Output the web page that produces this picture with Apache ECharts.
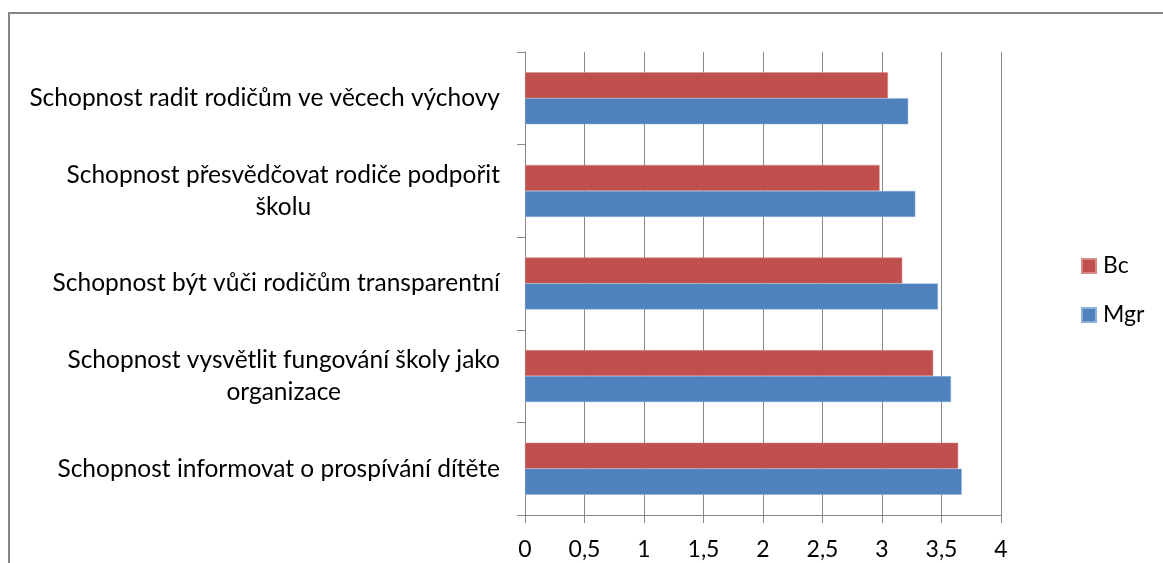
<!DOCTYPE html>
<html>
<head>
<meta charset="utf-8">
<script src="https://cdn.jsdelivr.net/npm/echarts@6/dist/echarts.min.js"></script>
<style>
  html, body { margin: 0; padding: 0; background: #fff; }
  #frame {
    position: absolute; left: 8px; top: 12px; right: -4px; bottom: -4px;
    border-left: 2px solid #868686; border-top: 2px solid #868686;
  }
  #chart { position: absolute; left: 0; top: 0; width: 1163px; height: 563px; }
</style>
</head>
<body>
<div id="frame"></div>
<div id="chart"></div>
<script>
// bottom to top, as the category axis counts from the origin
const categories = [
  'Schopnost informovat o prospívání dítěte',
  'Schopnost vysvětlit fungování školy jako\norganizace',
  'Schopnost být vůči rodičům transparentní',
  'Schopnost přesvědčovat rodiče podpořit\nškolu',
  'Schopnost radit rodičům ve věcech výchovy'
]
const bcValues = [3.64, 3.43, 3.17, 2.98, 3.05]
const mgrValues = [3.67, 3.58, 3.47, 3.28, 3.22]
const xTicks = { min: 0, max: 4, interval: 0.5 }

const FONT = 'Lato, "Open Sans", sans-serif'
const FS = 24.5
const chart = echarts.init(document.getElementById('chart'), null, { renderer: 'canvas' })

chart.setOption({
  animation: false,
  textStyle: { fontFamily: FONT },
  legend: {
    orient: 'vertical',
    left: 1081,
    top: 254,
    padding: 0,
    itemWidth: 14,
    itemHeight: 14,
    itemGap: 25,
    icon: 'rect',
    data: ['Bc', 'Mgr'],
    textStyle: { fontFamily: FONT, fontSize: 23, lineHeight: 24, color: '#000', padding: [0, 0, 0, 2] },
  },
  grid: {
    left: 525,
    right: 162,
    top: 52,
    bottom: 48,
    containLabel: false,
  },
  xAxis: {
    type: 'value',
    min: xTicks.min,
    max: xTicks.max,
    interval: xTicks.interval,
    axisLine: { show: true, lineStyle: { color: '#888', width: 1 } },
    axisTick: { show: true, length: 8, lineStyle: { color: '#888' } },
    splitLine: { show: true, lineStyle: { color: '#888', width: 1 } },
    axisLabel: {
      color: '#000',
      fontSize: 23,
      fontFamily: FONT,
      margin: 23,
      formatter: v => String(v).replace('.', ','),
    },
  },
  yAxis: {
    type: 'category',
    data: categories,
    axisLine: { show: true, lineStyle: { color: '#888', width: 1 } },
    axisTick: { show: true, length: 8, lineStyle: { color: '#888' } },
    axisLabel: {
      margin: 25,
      align: 'right',
      formatter: v => v.split('\n').map(l => '{c|' + l + '}').join('\n'),
      rich: {
        c: { align: 'center', fontSize: FS, lineHeight: 32, fontFamily: FONT, color: '#000' },
      },
    },
  },
  series: [
    {
      name: 'Bc',
      type: 'bar',
      data: bcValues,
      barWidth: 26,
      barGap: '0%',
      itemStyle: { color: '#C0504D', borderColor: '#d68a88', borderWidth: 0.5 },
    },
    {
      name: 'Mgr',
      type: 'bar',
      data: mgrValues,
      barWidth: 26,
      barGap: '0%',
      itemStyle: { color: '#4F81BD', borderColor: '#8db0da', borderWidth: 0.5 },
    },
  ],
})
</script>
</body>
</html>
